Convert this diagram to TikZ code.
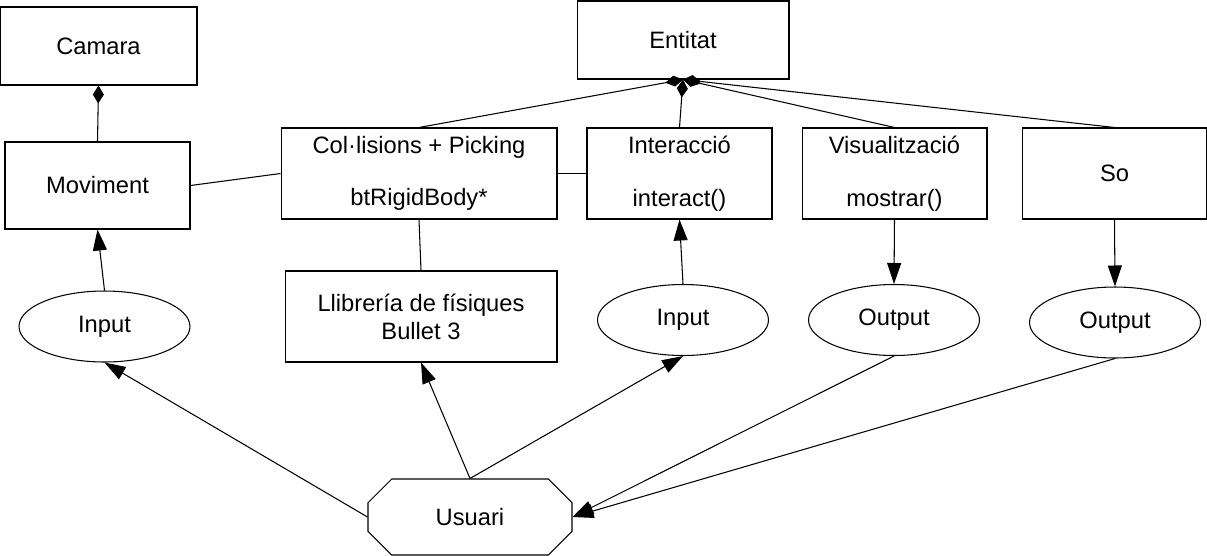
\documentclass[tikz,border=0pt]{standalone}
\usepackage{fontspec}
\setmainfont{Liberation Sans}
\usetikzlibrary{arrows.meta,shapes.geometric,shapes.misc}
\tikzset{
  linia/.style={line width=0.6pt},
  caixa/.style={draw, linia, minimum width=#1, align=center, inner sep=0pt,
    font=\fontsize{13.5}{16}\selectfont},
  ovalo/.style={draw, linia, ellipse, minimum width=3.42cm, minimum height=1.42cm,
    inner sep=0pt, font=\fontsize{13.5}{16}\selectfont},
  fletxa/.style={linia, -{Triangle[length=0.42cm,width=0.28cm]}},
  compo/.style={linia, -{Diamond[length=0.36cm,width=0.22cm]}}
}
\begin{document}
\begin{tikzpicture}[x=0.02cm, y=-0.02cm]
    \useasboundingbox (0,0) rectangle (1207,555);
    % top boxes
    \node[caixa=3.94cm, minimum height=1.56cm] (camara) at (98.5,46) {Camara};
    \node[caixa=4.24cm, minimum height=1.56cm] (entitat) at (683,40) {Entitat};
    % components row
    \node[caixa=3.7cm, minimum height=1.74cm] (moviment) at (97.5,185.5) {Moviment};
    \node[caixa=5.52cm, minimum height=1.82cm] (col) at (419,173.5) {Col·lisions + Picking\\[14pt]btRigidBody*};
    \node[caixa=3.7cm, minimum height=1.82cm] (interaccio) at (679.5,173.5) {Interacció\\[14pt]interact()};
    \node[caixa=3.7cm, minimum height=1.82cm] (visual) at (894.5,173.5) {Visualització\\[14pt]mostrar()};
    \node[caixa=3.7cm, minimum height=1.82cm] (so) at (1114.5,173.5) {So};
    % library and io
    \node[caixa=5.44cm, minimum height=1.82cm] (llib) at (421,316.5) {Llibrería de físiques\\Bullet 3};
    \node[ovalo] (input1) at (104.5,326.5) {Input};
    \node[ovalo] (input2) at (683,320) {Input};
    \node[ovalo] (output1) at (894,320) {Output};
    \node[ovalo] (output2) at (1115,322.5) {Output};
    % user
    \node[draw, linia, chamfered rectangle, chamfered rectangle xsep=0.46cm,
      chamfered rectangle ysep=0.3cm, minimum width=4.08cm, minimum height=1.52cm,
      inner sep=0pt, font=\fontsize{13.5}{16}\selectfont] (usuari) at (470,517) {Usuari};
    % composition
    \draw[compo] (moviment.north) -- (camara.south);
    \draw[compo] (col.north) -- (entitat.south);
    \draw[compo] (interaccio.north) -- (entitat.south);
    \draw[compo] (visual.north) -- (entitat.south);
    \draw[compo] (so.north) -- (entitat.south);
    % plain links
    \draw[linia] (moviment.east) -- (col.west);
    \draw[linia] (col.east) -- (interaccio.west);
    \draw[linia] (col.south) -- (llib.north);
    % arrows
    \draw[fletxa] (input1.north) -- (moviment.south);
    \draw[fletxa] (input2.north) -- (interaccio.south);
    \draw[fletxa] (visual.south) -- (output1.north);
    \draw[fletxa] (so.south) -- (output2.north);
    \draw[fletxa] (usuari.west) -- (input1.south);
    \draw[fletxa] (usuari.north) -- (llib.south);
    \draw[fletxa] (usuari.north) -- (input2.south);
    \draw[fletxa] (output1.south) -- (usuari.east);
    \draw[fletxa] (output2.south) -- (usuari.east);
\end{tikzpicture}
\end{document}
